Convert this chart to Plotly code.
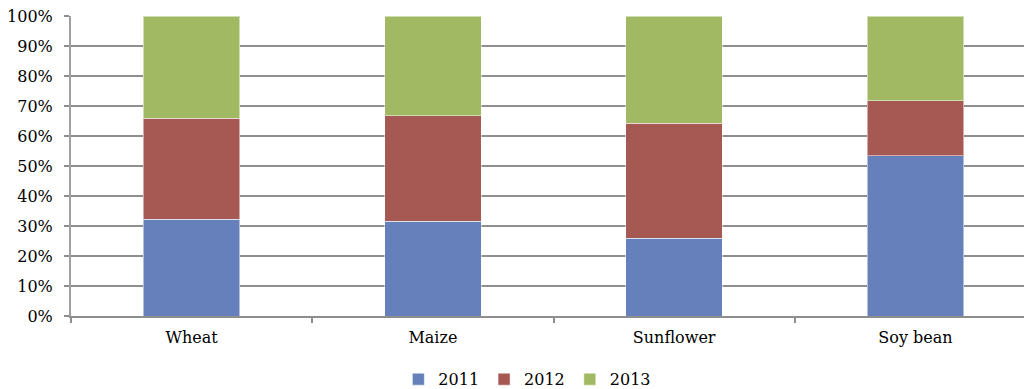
import plotly.graph_objects as go

categories = ["Wheat", "Maize", "Sunflower", "Soy bean"]
series_names = ["2011", "2012", "2013"]
v2011 = [32.2, 31.6, 26.0, 53.5]
v2012 = [33.8, 35.1, 38.3, 18.2]
v2013 = [34.0, 33.3, 35.7, 28.3]
colors = ["#6580BB", "#A65852", "#A1B962"]
tick_vals = [0, 10, 20, 30, 40, 50, 60, 70, 80, 90, 100]
tick_text = [f"{v}%" for v in tick_vals]

fam = "DejaVu Serif"
font = dict(family=fam, size=16, color="#000000")

fig = go.Figure()
for name, vals, col in zip(series_names, [v2011, v2012, v2013], colors):
    fig.add_trace(go.Bar(
        x=categories, y=vals, name=name,
        marker=dict(color=col, line=dict(color="rgba(255,255,255,0.5)", width=1)),
        width=0.4,
    ))

fig.update_layout(
    barmode="stack",
    width=1024, height=389,
    margin=dict(l=71, r=0, t=16, b=73, autoexpand=False),
    paper_bgcolor="white", plot_bgcolor="white",
    font=font,
    showlegend=True,
    legend=dict(orientation="h", xref="container", x=0.515, xanchor="center",
                yref="container", y=0.025, yanchor="middle",
                font=font, itemwidth=30, tracegroupgap=0, traceorder="normal"),
    xaxis=dict(
        range=[-0.5, 3.45],
        showgrid=False, showline=True, linecolor="#8e8e8e", linewidth=1.5,
        ticks="outside", tickson="boundaries", ticklen=5, tickcolor="#8e8e8e", tickwidth=1.5,
        tickfont=font, ticklabelstandoff=6,
    ),
    yaxis=dict(
        range=[0, 100], tickvals=tick_vals, ticktext=tick_text,
        showgrid=True, gridcolor="#8e8e8e", gridwidth=1.5,
        showline=True, linecolor="#a0a0a0", linewidth=2,
        ticks="outside", ticklen=5, tickcolor="#8e8e8e", tickwidth=1.5,
        tickfont=font, ticklabelstandoff=8, zeroline=False,
    ),
)

fig.write_html("out.html")
